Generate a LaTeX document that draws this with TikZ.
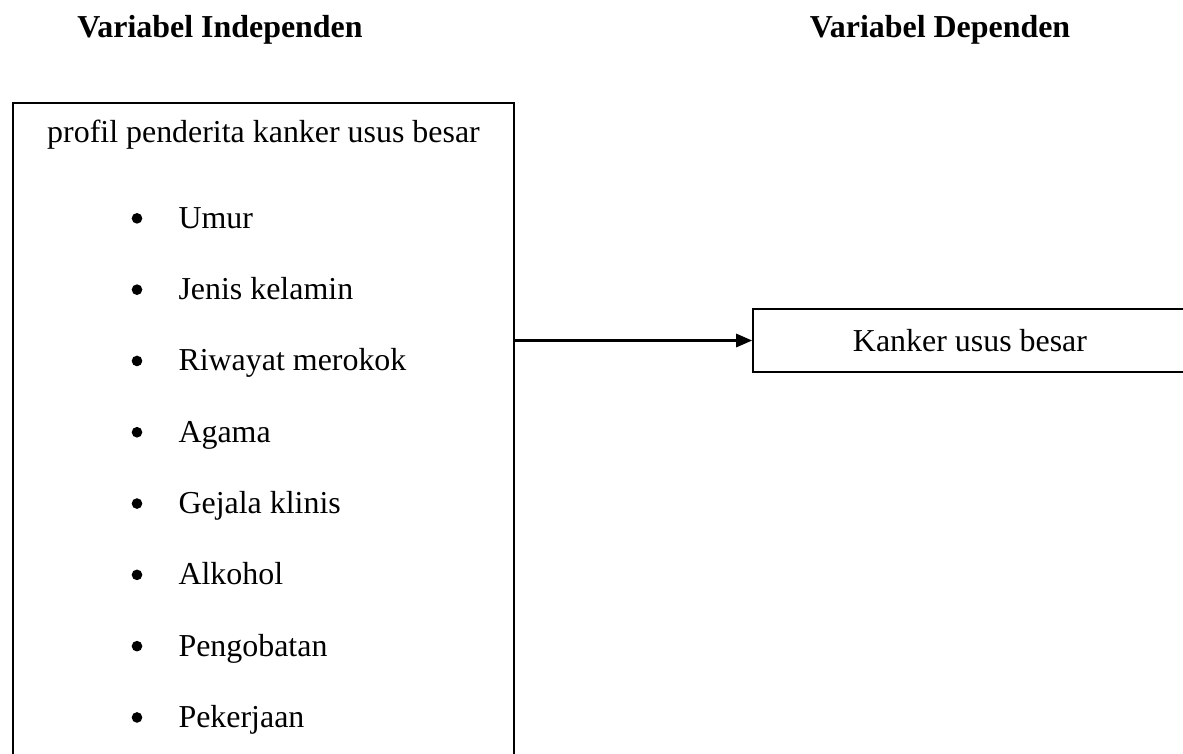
\documentclass[tikz,border=0pt]{standalone}
\usepackage{fontspec}
\setmainfont{Liberation Serif}
\usetikzlibrary{arrows.meta,positioning}

\begin{document}
\begin{tikzpicture}[x=0.3759pt,y=-0.3759pt,font=\fontsize{12}{14}\selectfont,
    kotak/.style={draw,line width=0.7pt,inner sep=0pt},
    butir/.style={anchor=west,inner sep=0pt,text height=8pt,text depth=2.5pt},
    titik/.style={circle,fill,inner sep=0pt,minimum size=4pt}]
  \useasboundingbox (0,0) rectangle (1183,753);
  % judul
  \node[font=\fontsize{12}{14}\selectfont\bfseries] (judulA) at (220,30) {Variabel Independen};
  \node[font=\fontsize{12}{14}\selectfont\bfseries] (judulB) at (940,30) {Variabel Dependen};
  % kotak kiri
  \node[kotak,minimum width=188.3pt,minimum height=269.5pt] (profil) at (263.5,461.5) {};
  \node (profilJudul) at (263.5,135) {profil penderita kanker usus besar};
  \foreach \teks [count=\i] in {Umur,Jenis kelamin,Riwayat merokok,Agama,Gejala klinis,Alkohol,Pengobatan,Pekerjaan}{
    \node[butir] (item\i) at (178,{221+71.3*(\i-1)}) {\teks};
    \node[titik] (titik\i) at ([yshift=1pt]item\i.west -| 137,0) {};
  }
  % kotak kanan
  \node[kotak,minimum width=163.1pt,minimum height=23.7pt] (kanker) at (970,340.5) {Kanker usus besar};
  \draw[-{Triangle[length=6pt,width=5pt]},line width=0.8pt] (profil.east |- kanker.west) -- (kanker.west);
\end{tikzpicture}
\end{document}
